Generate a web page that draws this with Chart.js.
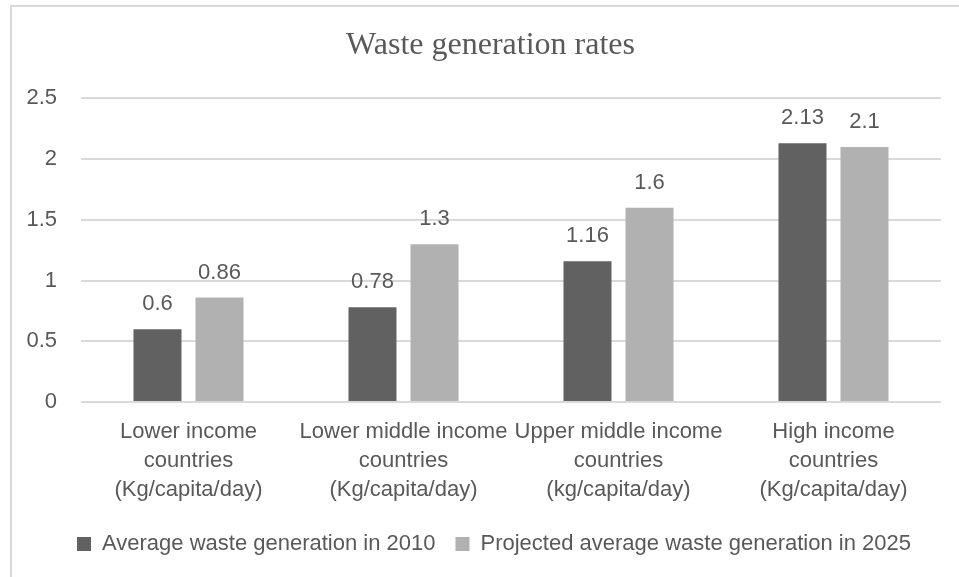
<!DOCTYPE html>
<html><head><meta charset="utf-8">
<script src="https://cdn.jsdelivr.net/npm/chart.js@4/dist/chart.umd.min.js"></script>
<style>html,body{margin:0;padding:0;background:#fff;overflow:hidden}#wrap{width:959px;height:577px}</style>
</head><body><div id="wrap"><canvas id="c" width="959" height="577"></canvas></div>
<script>
const categories = [
  ["Lower income", "countries", "(Kg/capita/day)"],
  ["Lower middle income", "countries", "(Kg/capita/day)"],
  ["Upper middle income", "countries", "(kg/capita/day)"],
  ["High income", "countries", "(Kg/capita/day)"]
];
const seriesNames = ["Average waste generation in 2010", "Projected average waste generation in 2025"];
const avg2010 = [0.6, 0.78, 1.16, 2.13];
const proj2025 = [0.86, 1.3, 1.6, 2.1];
const yTicks = [0, 0.5, 1, 1.5, 2, 2.5];
const titleText = "Waste generation rates";

const TEXT = '#595959';
const SANS = '"Liberation Sans", Arial, sans-serif';

const frame = {
  id: 'frame',
  afterLayout(chart) {
    if (chart.legend) { chart.legend.left = 47; }
    if (chart.titleBlock) { chart.titleBlock.left = 40; }
  },
  beforeDraw(chart) {
    const ctx = chart.ctx;
    ctx.save();
    ctx.fillStyle = '#fff';
    ctx.fillRect(0, 0, chart.width, chart.height);
    ctx.strokeStyle = '#d9d9d9';
    ctx.lineWidth = 2;
    ctx.beginPath();
    ctx.moveTo(11, chart.height + 2);
    ctx.lineTo(11, 6);
    ctx.lineTo(chart.width + 2, 6);
    ctx.stroke();
    ctx.restore();
  }
};

const valueLabels = {
  id: 'valueLabels',
  afterDatasetsDraw(chart) {
    const ctx = chart.ctx;
    ctx.save();
    ctx.font = '22px ' + SANS;
    ctx.fillStyle = TEXT;
    ctx.textAlign = 'center';
    ctx.textBaseline = 'alphabetic';
    chart.data.datasets.forEach((ds, i) => {
      chart.getDatasetMeta(i).data.forEach((bar, j) => {
        ctx.fillText(String(ds.data[j]), bar.x, bar.y - 19);
      });
    });
    ctx.restore();
  }
};

new Chart(document.getElementById('c'), {
  type: 'bar',
  data: {
    labels: categories,
    datasets: [
      { label: seriesNames[0], data: avg2010, backgroundColor: '#616161', categoryPercentage: 0.577, barPercentage: 0.774 },
      { label: seriesNames[1], data: proj2025, backgroundColor: '#b1b1b1', categoryPercentage: 0.577, barPercentage: 0.774 }
    ]
  },
  options: {
    responsive: false,
    animation: false,
    devicePixelRatio: 1,
    layout: { padding: { left: 0, right: 18, top: 0, bottom: 12 } },
    plugins: {
      title: {
        display: true, text: titleText, color: TEXT,
        font: { family: '"Liberation Serif", "Times New Roman", serif', size: 32, weight: 'normal' },
        padding: { top: 26, bottom: 34 }
      },
      legend: {
        position: 'bottom',
        labels: { boxWidth: 14, boxHeight: 14, padding: 20, color: TEXT, font: { family: SANS, size: 22 } }
      },
      tooltip: { enabled: false }
    },
    scales: {
      x: {
        grid: { display: false, drawTicks: false },
        border: { display: false },
        ticks: { color: TEXT, font: { family: SANS, size: 22, lineHeight: 1.32 }, padding: 15, maxRotation: 0, autoSkip: false },
        afterFit(s) { s.height = 111; }
      },
      y: {
        min: 0, max: 2.5,
        afterBuildTicks(s) { s.ticks = yTicks.map(v => ({ value: v })); },
        grid: { color: '#d9d9d9', lineWidth: 2, drawTicks: false },
        border: { display: false },
        ticks: { color: TEXT, font: { family: SANS, size: 22 }, padding: 24, callback: v => String(v) },
        afterFit(s) { s.width = 81; }
      }
    }
  },
  plugins: [frame, valueLabels]
});
</script>
</body></html>
